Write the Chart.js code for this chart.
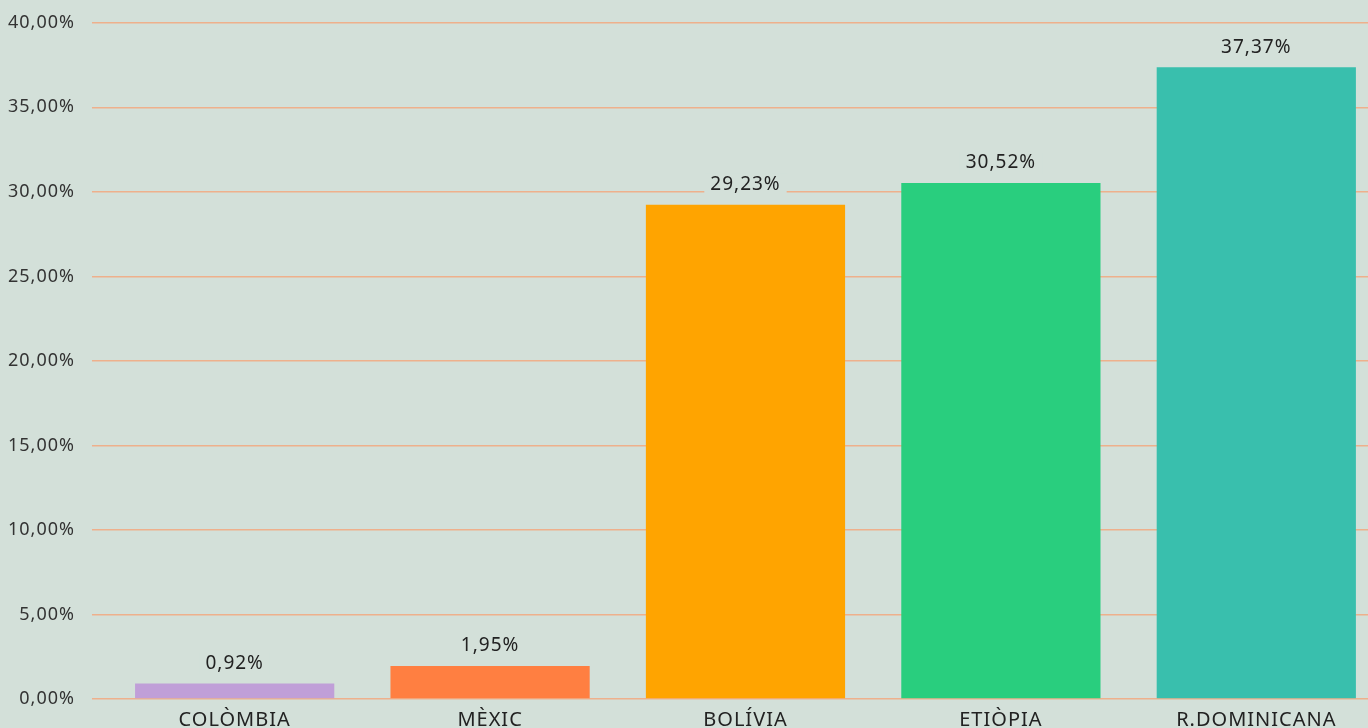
<!DOCTYPE html>
<html>
<head>
<meta charset="utf-8">
<script src="https://cdn.jsdelivr.net/npm/chart.js@4"></script>
<style>
  html, body { margin: 0; padding: 0; background: #d3e0d9; overflow: hidden; }
  #wrap { position: relative; top: -5px; width: 1384px; height: 738px; }
</style>
</head>
<body>
<div id="wrap"><canvas id="barChart"></canvas></div>
<script>
const countries = ['COLÒMBIA', 'MÈXIC', 'BOLÍVIA', 'ETIÒPIA', 'R.DOMINICANA'];
const shares = [0.92, 1.95, 29.23, 30.52, 37.37];
const barColors = ['#c09fd8', '#ff7f41', '#ffa400', '#29ce7e', '#39bfad'];

const fmt = v => v.toFixed(2).replace('.', ',') + '%';
const bg = '#d3e0d9';
const fontFam = '"Noto Sans"';

// the original font is a wide geometric one, so space the letters out a bit
const spacing = {
    id: 'spacing',
    beforeUpdate(chart) { chart.ctx.letterSpacing = '1px'; },
    beforeDraw(chart) { chart.ctx.letterSpacing = '1px'; }
};

// value labels above bars, with a patch of background behind so gridlines don't cross them
const valueLabels = {
    id: 'valueLabels',
    afterDatasetsDraw(chart) {
        const ctx = chart.ctx;
        const meta = chart.getDatasetMeta(0);
        ctx.save();
        ctx.font = '19px ' + fontFam;
        ctx.textAlign = 'center';
        ctx.textBaseline = 'middle';
        meta.data.forEach((bar, i) => {
            const txt = fmt(shares[i]);
            const w = ctx.measureText(txt).width;
            const y = bar.y - 20;
            ctx.fillStyle = bg;
            ctx.fillRect(bar.x - w / 2 - 6, y - 11, w + 12, 22);
            ctx.fillStyle = '#222';
            ctx.fillText(txt, bar.x, y);
        });
        ctx.restore();
    }
};

new Chart(document.getElementById('barChart'), {
    type: 'bar',
    data: {
        labels: countries,
        datasets: [{
            data: shares,
            backgroundColor: barColors,
            barPercentage: 0.78,
            categoryPercentage: 1.0
        }]
    },
    options: {
        responsive: true,
        maintainAspectRatio: false,
        animation: false,
        layout: { padding: { top: 0, left: -9, right: 0, bottom: 0 } },
        plugins: {
            legend: { display: false },
            tooltip: { enabled: false }
        },
        scales: {
            x: {
                grid: { display: false },
                border: { display: false },
                ticks: { color: '#222', font: { family: fontFam, size: 20 }, padding: 1 }
            },
            y: {
                min: 0,
                max: 40,
                border: { display: false },
                grid: { color: '#eeb08c', lineWidth: 1.5, tickLength: 15 },
                ticks: {
                    stepSize: 5,
                    color: '#333',
                    padding: 17,
                    font: { family: fontFam, size: 18 },
                    callback: v => fmt(v)
                }
            }
        }
    },
    plugins: [spacing, valueLabels]
});
</script>
</body>
</html>
